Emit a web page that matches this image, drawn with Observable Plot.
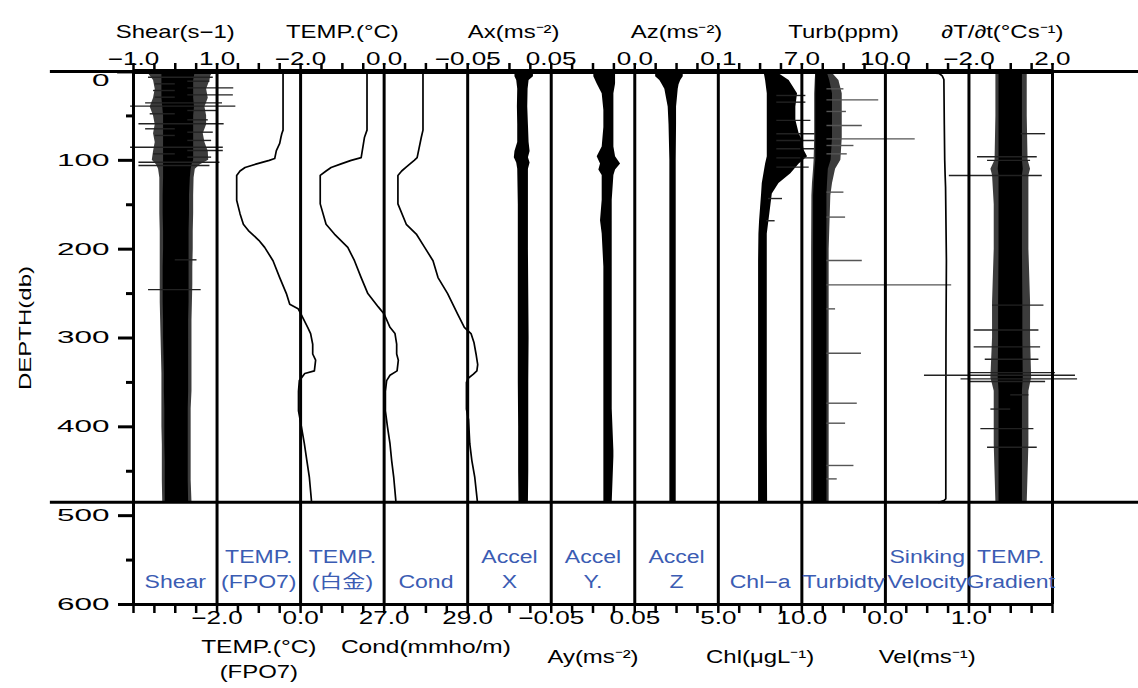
<!DOCTYPE html>
<html><head><meta charset="utf-8">
<script src="https://cdn.jsdelivr.net/npm/d3@7"></script>
<script src="https://cdn.jsdelivr.net/npm/@observablehq/plot@0.6"></script>
<style>
body{margin:0;background:#fff;}
#chart svg{display:block;}
</style></head><body><div id="chart"></div>
<script>
// ---------- panel value domains (left edge, right edge), panels left→right ----------
const panelNames = ["Shear","TEMP FPO7","TEMP Pt","Cond","Accel X","Accel Y","Accel Z","Chl-a","Turbidity","Sinking Velocity","TEMP Gradient"];
const panelDomains = [[-1,1],[-2,0],[-2,0],[27,29],[-0.05,0.05],[-0.05,0.05],[0,0.1],[5,10],[7,10],[0,1],[-2,2]];

// ---------- axis texts ----------
const topTickLabels = [[0,"−1.0"],[1,"1.0"],[2,"−2.0"],[3,"0.0"],[4,"−0.05"],[5,"0.05"],[6,"0.0"],[7,"0.1"],[8,"7.0"],[9,"10.0"],[10,"−2.0"],[11,"2.0"]];
const bottomTickLabels = [[1,"−2.0"],[2,"0.0"],[3,"27.0"],[4,"29.0"],[5,"−0.05"],[6,"0.05"],[7,"5.0"],[8,"10.0"],[9,"0.0"],[10,"1.0"]];
const topTitles = [[0.5,"Shear(s−1)"],[2.5,"TEMP.(°C)"],[4.55,"Ax(ms⁻²)"],[6.5,"Az(ms⁻²)"],[8.5,"Turb(ppm)"],[10.4,"∂T/∂t(°Cs⁻¹)"]];
const bottomTitlesA = [[1.5,"TEMP.(°C)"],[3.5,"Cond(mmho/m)"]];
const bottomTitlesB = [[5.5,"Ay(ms⁻²)"],[7.5,"Chl(μgL⁻¹)"],[9.5,"Vel(ms⁻¹)"]];
const bottomTitlesC = [[1.5,"(FPO7)"]];
const panelLabels1 = [[1,"TEMP."],[2,"TEMP."],[4,"Accel"],[5,"Accel"],[6,"Accel"],[9,"Sinking"],[10,"TEMP."]];
const panelLabels2 = [[0,"Shear"],[1,"(FPO7)"],[2,"(白金)"],[3,"Cond"],[4,"X"],[5,"Y."],[6,"Z"],[7,"Chl−a"],[8,"Turbidty"],[9,"Velocity"],[10,"Gradient"]];
const depthTicks = [0,100,200,300,400,500,600];
const depthMinorTicks = [50,150,250,350,450,550];
const dataEndDepth = 485;

// ---------- data: bands [depth, outerLo, coreLo, coreHi, outerHi] ----------
const shearBand = [
 [0,-0.68,-0.32,0.48,0.91],[5,-0.60,-0.32,0.46,0.85],[10,-0.52,-0.32,0.44,0.83],[20,-0.48,-0.32,0.44,0.75],
 [30,-0.52,-0.32,0.44,0.79],[40,-0.60,-0.30,0.46,0.71],[50,-0.52,-0.28,0.44,0.75],[60,-0.48,-0.28,0.44,0.75],
 [70,-0.52,-0.28,0.44,0.67],[80,-0.48,-0.28,0.44,0.71],[90,-0.52,-0.28,0.44,0.79],[100,-0.55,-0.28,0.44,0.80],
 [105,-0.45,-0.28,0.40,0.60],[110,-0.40,-0.28,0.38,0.48],[120,-0.37,-0.28,0.36,0.45],[140,-0.37,-0.29,0.34,0.44],
 [160,-0.37,-0.29,0.34,0.44],[180,-0.36,-0.28,0.33,0.43],[200,-0.36,-0.28,0.33,0.43],[220,-0.36,-0.29,0.33,0.42],
 [240,-0.36,-0.29,0.33,0.42],[260,-0.36,-0.29,0.33,0.41],[280,-0.35,-0.28,0.32,0.40],[300,-0.34,-0.28,0.32,0.40],
 [320,-0.33,-0.27,0.32,0.40],[340,-0.32,-0.26,0.32,0.40],[360,-0.32,-0.26,0.32,0.40],[380,-0.32,-0.25,0.31,0.38],
 [400,-0.32,-0.25,0.31,0.38],[420,-0.31,-0.25,0.31,0.38],[440,-0.31,-0.24,0.31,0.38],[460,-0.31,-0.24,0.31,0.38],
 [485,-0.30,-0.24,0.32,0.40]];
const shearSpikes = [
 [1.5,-1.38,0.9],[6.4,-0.64,0.91],[10.9,0.3,0.83],[13.9,-0.48,0],[18.4,0.3,1.40],[21.4,-0.52,0],[26.3,0.3,1.39],
 [28.9,-0.48,0],[35.3,-0.71,1.13],[39.0,-1.07,1.45],[43.9,0.3,1.03],[47.6,-0.60,0],[54.4,0.3,0.79],
 [58.9,-0.87,1.17],[64.5,-0.71,0],[68.3,0.3,0.91],[72.0,-0.48,0],[77.6,0.3,0.87],[85.2,-1.07,1.15],
 [88.9,0.3,1.15],[92.7,-0.52,0],[96.4,0.3,0.87],[102.1,-0.87,1.07],[105.8,-0.87,0.83],[212,0,0.52],[245.6,-0.64,0.62]];

// ---------- data: profiles [depth, value] ----------
const tempFPO7 = [[0,-0.42],[66,-0.42],[70,-0.45],[74,-0.47],[81,-0.50],[89,-0.58],[98,-0.62],[100,-0.75],[104,-1.05],
 [108,-1.33],[112,-1.45],[117,-1.53],[145,-1.53],[160,-1.45],[172,-1.37],[179,-1.25],[190,-1.0],[198,-0.86],
 [213,-0.66],[232,-0.50],[250,-0.34],[262,-0.26],[267,-0.06],[273,0.01],[288,0.17],[295,0.24],[307,0.29],
 [318,0.29],[325,0.36],[337,0.33],[340,0.10],[348,-0.03],[360,-0.05],[382,-0.05],[400,0.02],[419,0.09],
 [438,0.15],[457,0.21],[483,0.26]];
const tempPt = [[0,-0.41],[66,-0.41],[74,-0.47],[97,-0.55],[100,-0.79],[104,-1.03],[108,-1.27],[112,-1.39],[117,-1.53],
 [149,-1.53],[172,-1.39],[183,-1.19],[198,-0.87],[213,-0.71],[232,-0.55],[250,-0.39],[265,-0.14],[273,0.0],
 [288,0.14],[295,0.26],[307,0.30],[318,0.30],[325,0.34],[337,0.31],[342,0.14],[348,0.06],[360,0.03],[382,0.03],
 [400,0.08],[419,0.14],[438,0.18],[457,0.23],[483,0.28]];
const cond = [[0,27.93],[66,27.93],[74,27.89],[97,27.79],[100,27.72],[104,27.62],[108,27.52],[112,27.42],[117,27.33],
 [149,27.33],[172,27.53],[183,27.77],[198,27.97],[213,28.17],[232,28.29],[250,28.52],[273,28.76],[288,28.92],
 [295,29.08],[305,29.15],[318,29.20],[330,29.24],[337,29.22],[341,29.13],[345,29.02],[350,28.97],[380,28.97],
 [392,29.02],[419,29.05],[438,29.10],[457,29.17],[483,29.23]];
const sinkVel = [[1,0.48],[2,0.64],[5,0.68],[9,0.70],[60,0.705],[100,0.71],[117,0.715],[130,0.72],[213,0.73],
 [300,0.725],[400,0.723],[481,0.723],[483,0.70],[485,0.64]];

// ---------- data: narrow bands [depth, lo, hi] ----------
const accelX = [[0,-0.028,0.043],[2.5,-0.028,0.043],[3,0.0066,0.0287],[6,0.0066,0.0287],[10,0.0087,0.0235],[20,0.0099,0.0223],
 [40,0.0095,0.0219],[60,0.0099,0.0227],[80,0.0099,0.0235],[90,0.0066,0.0247],[97,0.0058,0.0227],[103,0.0087,0.0247],
 [110,0.0099,0.0227],[150,0.0106,0.0227],[200,0.0106,0.0227],[250,0.0106,0.0231],[300,0.0106,0.0235],
 [350,0.0106,0.0231],[400,0.0110,0.0231],[450,0.0110,0.0231],[485,0.0114,0.0227]];
const accelY = [[0,-0.047,0.027],[2.5,-0.047,0.027],[3,0.001,0.027],[6,0.001,0.027],[14,0.005,0.027],[25,0.011,0.025],[44,0.013,0.025],
 [63,0.013,0.025],[85,0.011,0.025],[96,0.005,0.027],[104,0.009,0.033],[111,0.007,0.027],[117,0.011,0.025],
 [145,0.011,0.023],[168,0.009,0.023],[183,0.011,0.023],[220,0.013,0.023],[269,0.013,0.023],[320,0.013,0.023],
 [380,0.013,0.023],[427,0.013,0.025],[434,0.013,0.025],[485,0.013,0.023]];
const accelZ = [[0,0.015,0.079],[2.5,0.015,0.079],[3,0.025,0.058],[6,0.025,0.058],[10,0.030,0.055],[15,0.033,0.053],[20,0.036,0.052],
 [30,0.038,0.051],[40,0.040,0.050],[60,0.041,0.050],[100,0.042,0.0496],[200,0.042,0.0496],[300,0.042,0.0496],
 [400,0.042,0.0496],[485,0.042,0.0496]];
const chlBand = [[0,7.73,8.43],[10,7.83,9.24],[25,7.93,9.74],[40,7.93,9.64],[55,7.93,9.64],[70,7.93,9.84],[78,7.93,10.04],
 [89,7.93,10.14],[96,7.93,10.34],[104,7.83,9.84],[115,7.73,9.34],[126,7.63,8.63],[138,7.59,8.23],[153,7.53,8.13],
 [168,7.47,8.03],[183,7.43,7.93],[213,7.41,7.93],[300,7.41,7.93],[400,7.41,7.93],[485,7.41,7.95]];
const chlSpikes = [[27,8.5,10.24],[34.5,8.5,10.24],[55,8.5,10.54],[70,8.5,10.84],[77.6,8.5,10.84],[87,8.5,10.84],
 [97.2,8.5,10.9],[107.7,8.5,10.44],[143,8.0,8.84],[168,7.9,8.4]];
const turbBand = [[0,7.5,7.5,7.9,8.04],[10,7.48,7.5,8.0,8.33],[25,7.46,7.5,8.1,8.45],[50,7.46,7.5,8.1,8.45],
 [75,7.46,7.5,8.1,8.45],[100,7.44,7.5,8.05,8.4],[110,7.42,7.47,7.95,8.21],[126,7.38,7.44,7.92,8.10],
 [140,7.36,7.42,7.9,8.04],[200,7.35,7.42,7.9,7.98],[300,7.35,7.42,7.9,7.98],[400,7.35,7.42,7.9,7.98],[485,7.35,7.42,7.9,7.98]];
const turbSpikes = [[19.5,7.9,8.51],[31.9,7.9,9.76],[45,7.9,8.6],[60.8,7.9,9.17],[75.8,7.9,11.07],[83.3,7.9,8.87],
 [92.7,7.9,8.63],[135.8,7.9,8.51],[163.9,7.9,8.57],[212.8,7.9,9.17],[240.2,7.9,12.38],[267.2,7.9,8.21],
 [317.1,7.9,9.14],[373.4,7.9,8.99],[395.9,7.9,8.57],[443.5,7.9,8.87],[458.6,7.9,8.27]];
const gradBand = [[0,-0.71,-0.56,0.56,0.79],[50,-0.71,-0.56,0.56,0.79],[100,-0.75,-0.56,0.56,0.83],[110,-0.95,-0.6,0.6,0.95],
 [117,-0.87,-0.56,0.56,0.87],[150,-0.79,-0.56,0.56,0.87],[200,-0.79,-0.56,0.56,0.87],[260,-0.87,-0.58,0.58,0.95],
 [300,-0.87,-0.58,0.58,0.95],[345,-0.95,-0.6,0.6,1.0],[360,-0.79,-0.56,0.56,0.87],[420,-0.79,-0.56,0.56,0.87],
 [485,-0.71,-0.56,0.56,0.79]];
const gradSpikes = [[70,0.5,1.67],[96,-1.59,1.27],[100,-1.11,0.95],[117,-2.94,1.51],[263,-0.87,1.59],[291,-1.75,1.35],
 [310,-1.75,1.43],[324,-1.22,1.35],[339,-1.98,2.14],[342,-4.13,3.1],[346,-2.38,3.2],[349,-1.98,1.67],[364,0,0.87],
 [380,-0.95,0],[402,-1.43,1.11],[423,-1.11,1.27]];

// ---------- helpers ----------
const px = (i, v) => i + (v - panelDomains[i][0]) / (panelDomains[i][1] - panelDomains[i][0]);
const boundaries = d3.range(0, 12);
const quarterTicks = d3.range(0, 44.01, 1).map(k => k / 4);
const blue = "#3b5cb3";
const FONT = "'Liberation Sans', Arial, 'Noto Sans CJK JP', sans-serif";

function band5(i, data, outerFill) {
  return [
    Plot.areaX(data, {y: d => d[0], x1: d => px(i, d[1]), x2: d => px(i, d[4]), fill: outerFill}),
    Plot.areaX(data, {y: d => d[0], x1: d => px(i, d[2]), x2: d => px(i, d[3]), fill: "#000"})
  ];
}
function band3(i, data) {
  return Plot.areaX(data, {y: d => d[0], x1: d => px(i, d[1]), x2: d => px(i, d[2]), fill: "#000"});
}
function spikes(i, data, stroke) {
  return Plot.ruleY(data, {y: d => d[0], x1: d => px(i, d[1]), x2: d => px(i, d[2]), stroke, strokeWidth: 1.4});
}
function profile(i, data) {
  return Plot.line(data, {x: d => px(i, d[1]), y: d => d[0], stroke: "#000", strokeWidth: 1.7});
}

// text marks, in order; each gets its own horizontal stretch below
const textMarks = [
  [Plot.text(topTickLabels, {x: d => d[0], text: d => d[1], frameAnchor: "top", dy: -19, fontSize: 18}), 1.45],
  [Plot.text(bottomTickLabels, {x: d => d[0], text: d => d[1], frameAnchor: "bottom", dy: 19, fontSize: 18}), 1.45],
  [Plot.text(topTitles, {x: d => d[0], text: d => d[1], frameAnchor: "top", dy: -46, fontSize: 18}), 1.33],
  [Plot.text(bottomTitlesA, {x: d => d[0], text: d => d[1], frameAnchor: "bottom", dy: 48, fontSize: 18}), 1.36],
  [Plot.text(bottomTitlesB, {x: d => d[0], text: d => d[1], frameAnchor: "bottom", dy: 58, fontSize: 18}), 1.33],
  [Plot.text(bottomTitlesC, {x: d => d[0], text: d => d[1], frameAnchor: "bottom", dy: 73, fontSize: 18}), 1.33],
  [Plot.text(panelLabels1, {x: d => d[0] + 0.5, text: d => d[1], frameAnchor: "bottom", dy: -42, fontSize: 18, fill: blue}), 1.28],
  [Plot.text(panelLabels2, {x: d => d[0] + 0.5, text: d => d[1], frameAnchor: "bottom", dy: -17, fontSize: 18, fill: blue}), 1.28],
  [Plot.text(["DEPTH(db)"], {frameAnchor: "left", textAnchor: "middle", rotate: -90, dx: -108, dy: -10, fontSize: 16}), 1.5]
];

const chart = Plot.plot({
  width: 1138, height: 688,
  marginLeft: 133, marginRight: 86, marginTop: 71, marginBottom: 84,
  style: {fontFamily: FONT, fontSize: "18px", color: "#000", background: "#fff", overflow: "visible"},
  x: {domain: [0, 11], axis: null},
  y: {domain: [0, 600], reverse: true, axis: null},
  marks: [
    // data
    ...band5(0, shearBand, "#3c3c3c"),
    spikes(0, shearSpikes, "#222"),
    profile(1, tempFPO7),
    profile(2, tempPt),
    profile(3, cond),
    band3(4, accelX),
    band3(5, accelY),
    band3(6, accelZ),
    band3(7, chlBand),
    spikes(7, chlSpikes, "#222"),
    ...band5(8, turbBand, "#3c3c3c"),
    spikes(8, turbSpikes, "#555"),
    profile(9, sinkVel),
    ...band5(10, gradBand, "#3c3c3c"),
    spikes(10, gradSpikes, "#222"),
    // frame
    Plot.ruleX(boundaries, {y1: 0, y2: 600, strokeWidth: 3}),
    Plot.ruleY([0, dataEndDepth], {x1: -0.995, x2: 12.05, strokeWidth: 3}),
    Plot.ruleY([0], {x1: 0, x2: 11, strokeWidth: 5}),
    Plot.ruleY([600], {x1: 0, x2: 11, strokeWidth: 3}),
    // axes
    Plot.axisY({ticks: depthTicks, tickSize: 15, tickPadding: 9, strokeWidth: 3, fontSize: 17, label: null}),
    Plot.axisY({ticks: depthMinorTicks, tickSize: 7, strokeWidth: 3, tickFormat: () => "", label: null}),
    Plot.axisX({anchor: "top", ticks: quarterTicks, tickSize: 9, strokeWidth: 2.5, tickFormat: () => "", label: null}),
    Plot.axisX({anchor: "bottom", ticks: quarterTicks, tickSize: 9, strokeWidth: 2.5, tickFormat: () => "", label: null}),
    ...textMarks.map(d => d[0])
  ]
});

// horizontally stretch the wide original lettering (scale about each label's anchor point)
function stretchText(t, s, extra = "") {
  const x = +t.getAttribute("x") || 0, y = +t.getAttribute("y") || 0;
  const tr = t.getAttribute("transform") || "";
  t.setAttribute("transform", `${tr} translate(${x},${y}) scale(${s},1) translate(${-x},${-y})${extra}`);
}
const textGroups = chart.querySelectorAll('g[aria-label="text"]');
textGroups.forEach((g, k) => {
  const s = textMarks[k] ? textMarks[k][1] : 1;
  g.querySelectorAll("text").forEach(t => stretchText(t, s));
});
chart.querySelectorAll('g[aria-label="y-axis tick label"] text').forEach(t => {
  // the reference draws the "0" depth label just below the surface line
  stretchText(t, 1.85, t.textContent.trim() === "0" ? " translate(0,9)" : "");
});

document.getElementById("chart").appendChild(chart);
</script>
</body></html>
